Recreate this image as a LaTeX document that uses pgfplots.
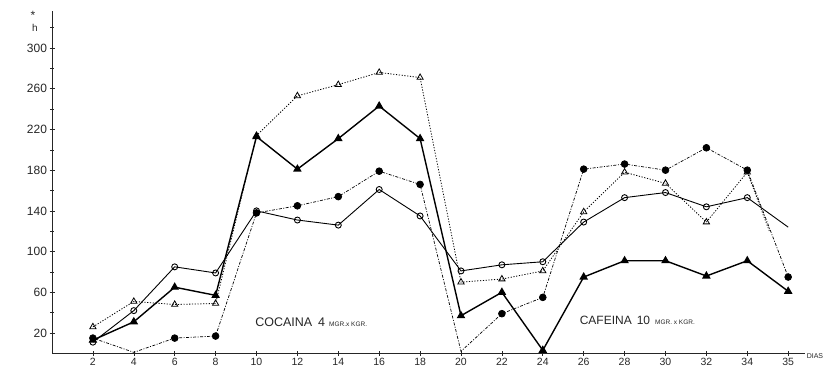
\documentclass[border=0pt]{standalone}
\usepackage{fontspec}
\setmainfont{Liberation Sans}
\usepackage{pgfplots}
\pgfplotsset{compat=1.18}
\begin{document}
\begin{tikzpicture}
\begin{axis}[
  scale only axis,
  width=752.6pt, height=342pt,
  xmin=0, xmax=36.8, ymin=0, ymax=336,
  axis lines=left,
  axis line style={-, line width=0.8pt, black!85},
  clip=false,
  xtick={2,4,6,8,10,12,14,16,18,20,22,24,26,28,30,32,34,36},
  xticklabels={2,4,6,8,10,12,14,16,18,20,22,24,26,28,30,32,34,35},
  ytick={20,60,100,140,180,220,260,300},
  minor ytick={40,80,120,160,200,240,280,320},
  tick align=center,
  major tick length=5pt, minor tick length=4pt,
  tick style={black!85, line width=0.6pt},
  /pgf/number format/assume math mode=true,
  ticklabel style={font=\fontsize{12}{14}\selectfont, black!85},
  xticklabel style={font=\fontsize{10.5}{12}\selectfont, inner sep=0pt, yshift=-2.5pt},
  yticklabel style={xshift=1pt},
]
% filled triangles, solid thick
\addplot[black, line width=1.4pt, mark=triangle*, mark size=3.6pt, mark options={solid}] coordinates {
(2,13) (4,31) (6,65) (8,57) (10,213) (12,181) (14,211) (16,243) (18,211)
(20,37) (22,60) (24,3) (26,75) (28,91) (30,91) (32,76) (34,91) (36,61)};
% open circles, solid thin
\addplot[black, line width=0.9pt, mark=o, mark size=3pt, mark options={solid, fill=white},
  mark indices={1,...,17}] coordinates {
(2,11) (4,42) (6,85) (8,79) (10,140) (12,131) (14,126) (16,161) (18,135)
(20,81) (22,87) (24,90) (26,129) (28,153) (30,158) (32,144) (34,153) (36,124)};
% filled circles, dash-dot
\addplot[black, line width=0.7pt, dash pattern=on 3pt off 1.5pt on 1pt off 1.5pt,
  mark=*, mark size=3.4pt, mark options={solid},
  mark indices={1,3,4,5,6,7,8,9,11,12,13,14,15,16,17,18}] coordinates {
(2,15) (4,1) (6,15) (8,17) (10,138) (12,145) (14,154) (16,179) (18,166)
(20,2) (22,39) (24,55) (26,181) (28,186) (30,180) (32,202) (34,180) (36,75)};
% open triangles, dotted
\addplot[black, line width=0.8pt, dash pattern=on 1.2pt off 1.6pt,
  mark=triangle, mark size=3.6pt, mark options={solid, fill=white},
  mark indices={1,...,17}] coordinates {
(2,26) (4,51) (6,48) (8,49) (10,214) (12,253) (14,264) (16,276) (18,271)
(20,70) (22,73) (24,81) (26,139) (28,178) (30,167) (32,129) (34,178) (35.1,119)};

\node[anchor=west, inner sep=0, black!85] at (axis cs:9.93,31)
  {\fontsize{12.5}{14}\selectfont COCAINA\hspace{6pt}4\hspace{4pt}{\fontsize{6.5}{8}\selectfont MGR.x KGR.}};
\node[anchor=west, inner sep=0, black!85] at (axis cs:25.8,32)
  {\fontsize{12}{14}\selectfont CAFEINA\hspace{5pt}10\hspace{5pt}{\fontsize{6.5}{8}\selectfont MGR. x KGR.}};
\node[inner sep=0, black!85] at (axis cs:-0.83,320) {\fontsize{10}{12}\selectfont h};
\node[inner sep=0, black!85] at (axis cs:-0.93,332) {\fontsize{12}{12}\selectfont *};
\node[anchor=west, inner sep=0, black!85] at (axis cs:36.9,-2.5) {\fontsize{7}{8}\selectfont DIAS};

\coordinate (bl) at (axis cs:-2.543,-13.26);
\coordinate (tr) at (axis cs:38.29,347.2);
\end{axis}
\pgfresetboundingbox
\path[use as bounding box] (bl) rectangle (tr);
\end{tikzpicture}
\end{document}
